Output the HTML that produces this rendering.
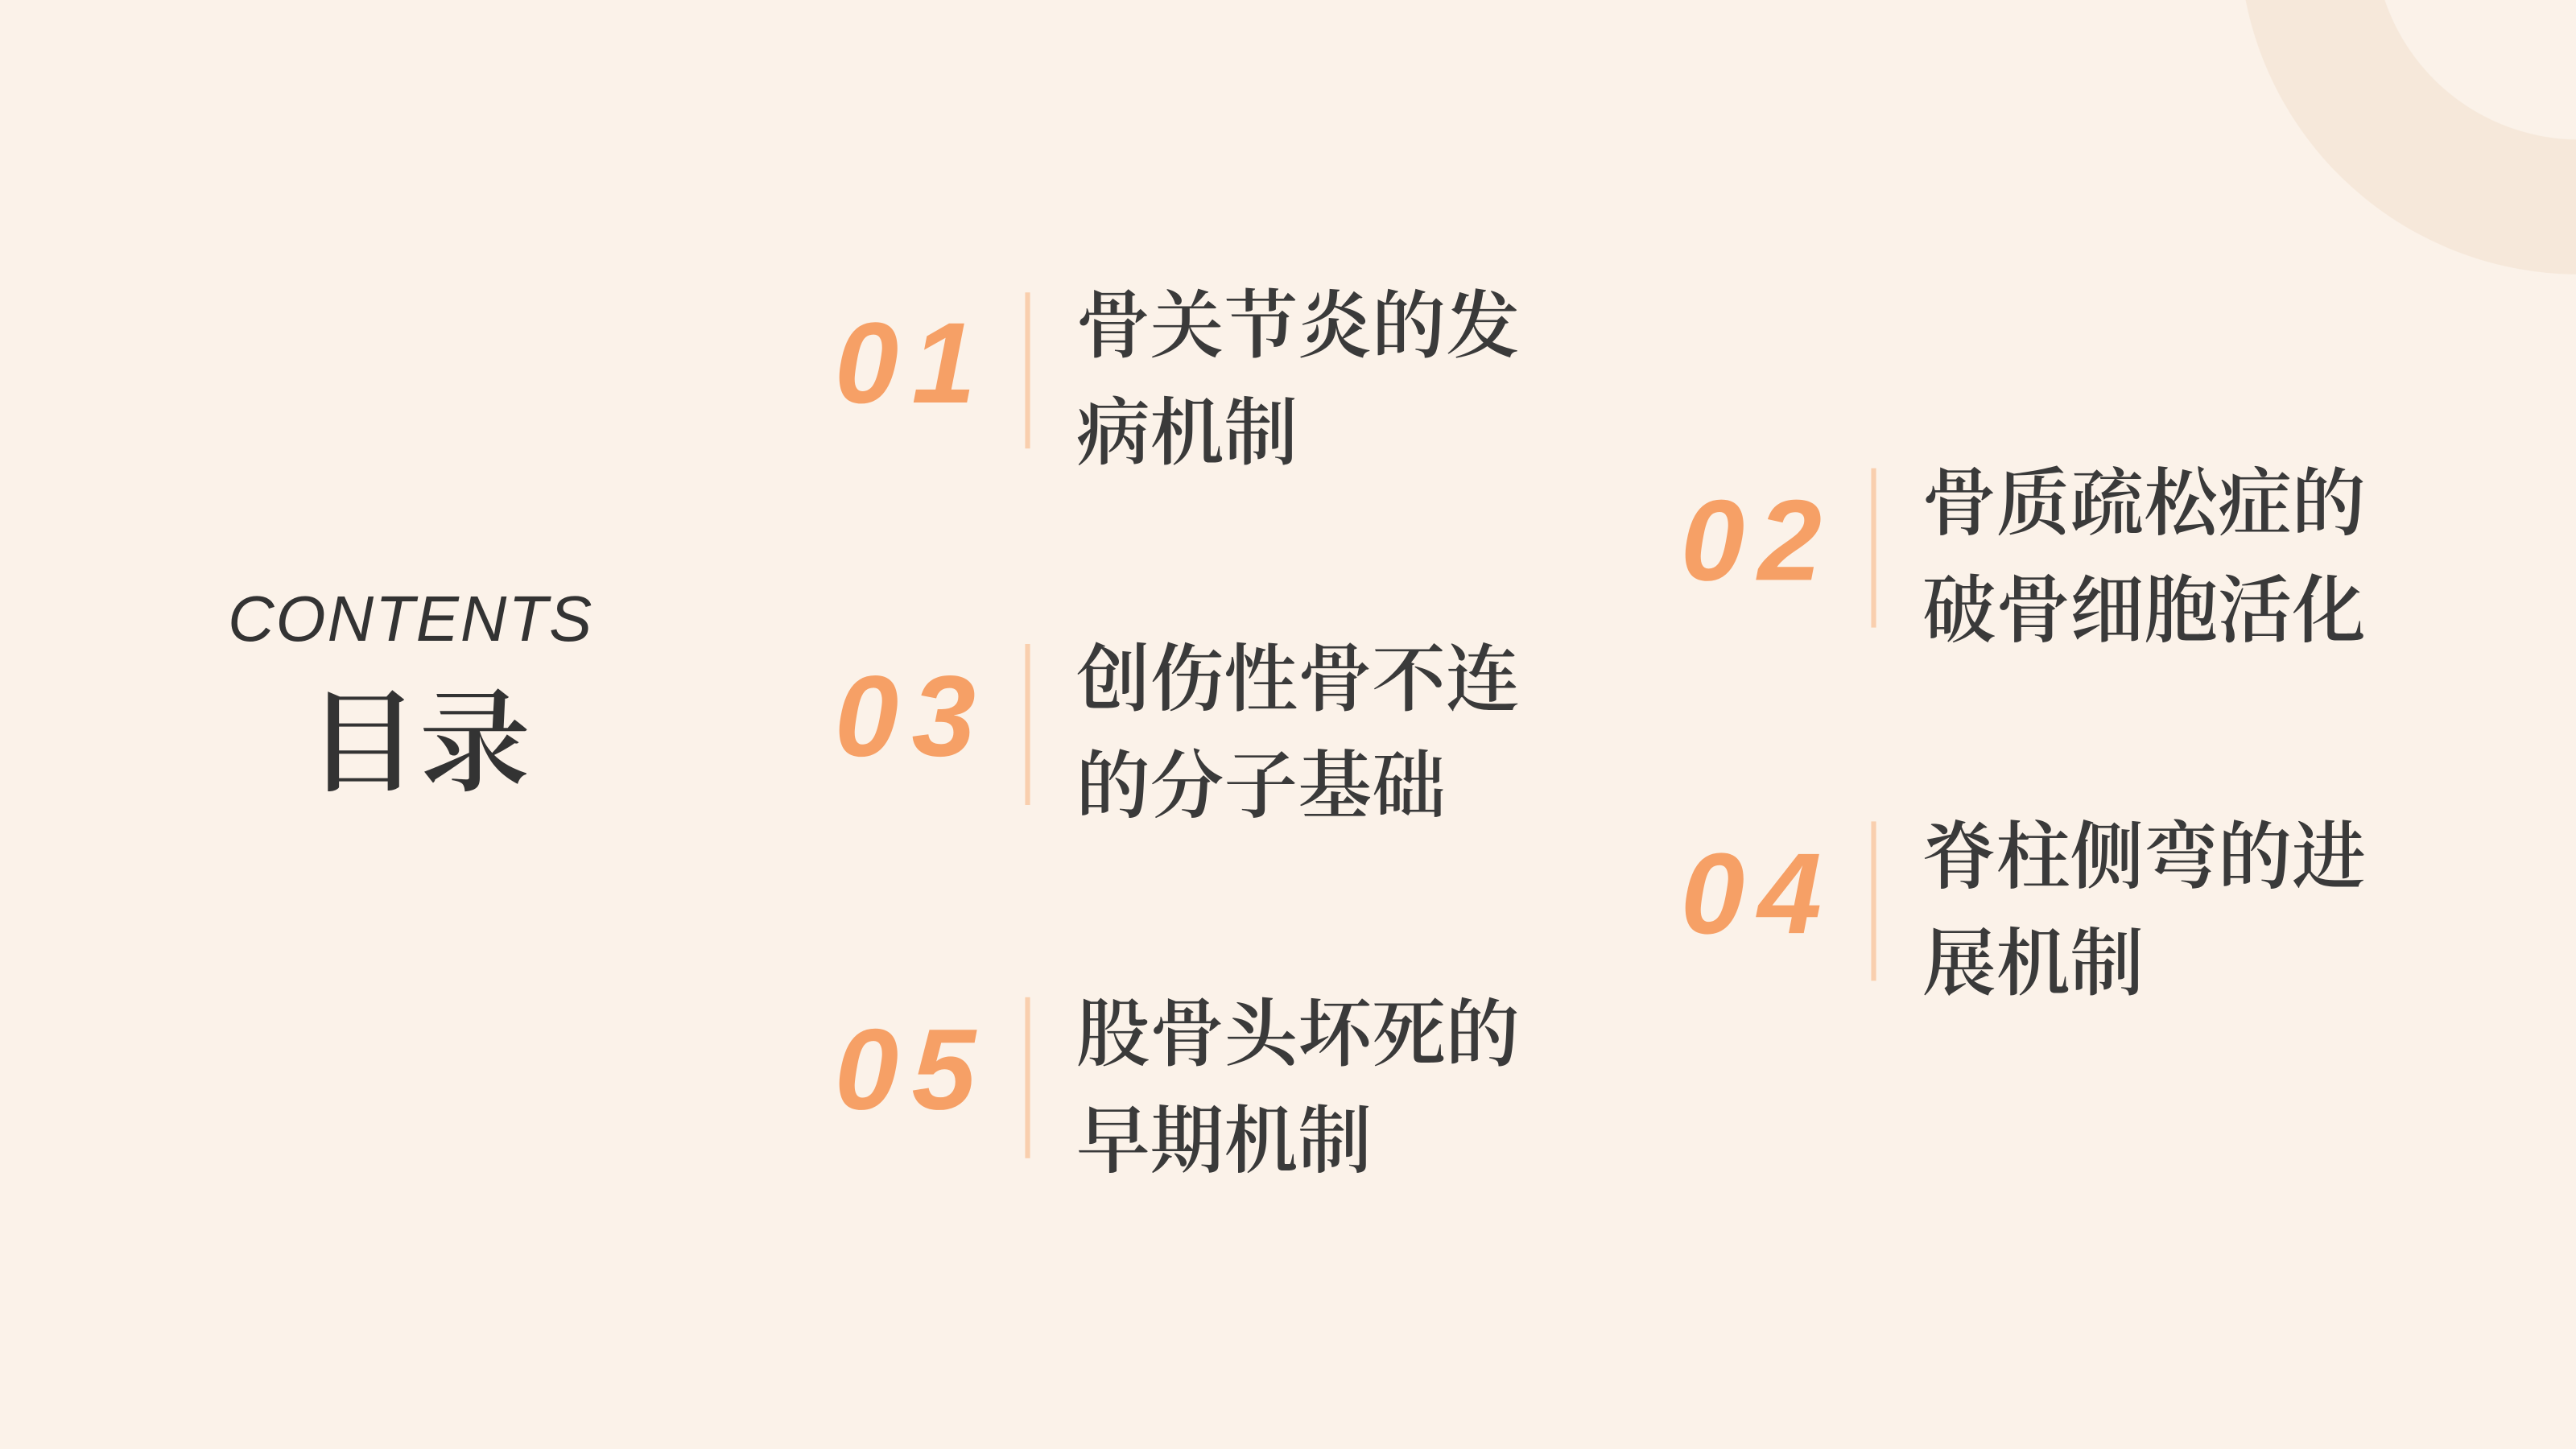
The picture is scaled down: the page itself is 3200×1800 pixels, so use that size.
<!DOCTYPE html>
<html><head><meta charset="utf-8"><style>
html,body{margin:0;padding:0;}
body{width:3200px;height:1800px;overflow:hidden;background:#fbf2e9;}
#s{position:absolute;left:0;top:0;width:1568px;height:882px;transform:scale(2.0408);transform-origin:0 0;}
.a{position:absolute;}
.num{font-family:"Liberation Sans",sans-serif;font-style:italic;font-weight:bold;font-size:70px;color:#f6a066;line-height:1;letter-spacing:8px;}
.ln{width:3px;background:#f9cfae;}
.t{font-family:"Liberation Serif","Noto Serif CJK SC",serif;font-size:45px;line-height:65px;color:#3a3a3a;white-space:nowrap;font-weight:600;}
</style></head><body>
<div id="s">
<div class="a" style="left:1363px;top:-247px;width:414px;height:414px;border-radius:50%;background:#f6e8da;"></div>
<div class="a" style="left:1445px;top:-165px;width:250px;height:250px;border-radius:50%;background:#fbf2e9;"></div>

<div class="a" style="left:100px;top:356px;width:300px;text-align:center;font-family:'Liberation Sans',sans-serif;font-style:italic;font-size:39px;letter-spacing:1px;color:#333;">CONTENTS</div>
<div class="a" style="left:150px;top:416px;width:210px;text-align:center;font-family:'Liberation Serif','Noto Serif CJK SC',serif;font-size:68px;color:#333;line-height:1.1;font-weight:600;">目录</div>

<div class="a num" style="left:508px;top:186px;">01</div>
<div class="a ln" style="left:624px;top:178px;height:95px;"></div>
<div class="a t" style="left:655px;top:167px;">骨关节炎的发<br>病机制</div>

<div class="a num" style="left:1023px;top:294px;">02</div>
<div class="a ln" style="left:1139px;top:285px;height:97px;"></div>
<div class="a t" style="left:1170px;top:275px;">骨质疏松症的<br>破骨细胞活化</div>

<div class="a num" style="left:508px;top:401px;">03</div>
<div class="a ln" style="left:624px;top:392px;height:98px;"></div>
<div class="a t" style="left:655px;top:382px;">创伤性骨不连<br>的分子基础</div>

<div class="a num" style="left:1023px;top:509px;">04</div>
<div class="a ln" style="left:1139px;top:500px;height:97px;"></div>
<div class="a t" style="left:1170px;top:490px;">脊柱侧弯的进<br>展机制</div>

<div class="a num" style="left:508px;top:616px;">05</div>
<div class="a ln" style="left:624px;top:607px;height:98px;"></div>
<div class="a t" style="left:655px;top:598px;">股骨头坏死的<br>早期机制</div>
</div>
</body></html>
